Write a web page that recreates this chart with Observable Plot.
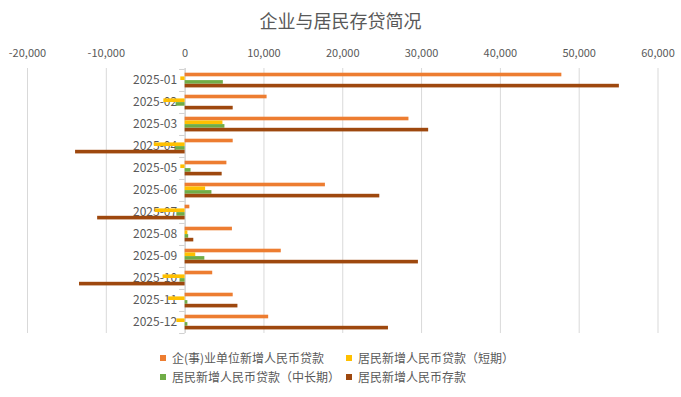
<!DOCTYPE html>
<html><head><meta charset="utf-8">
<script src="https://cdn.jsdelivr.net/npm/d3@7"></script>
<script src="https://cdn.jsdelivr.net/npm/@observablehq/plot@0.6"></script>
<style>
body{margin:0;background:#fff;font-family:"Noto Sans CJK SC","Noto Sans",sans-serif;}
#wrap{position:relative;width:681px;height:397px;overflow:hidden;background:#fff}
#title{position:absolute;top:8px;left:0;width:681px;text-align:center;font-size:18px;color:#595959;line-height:24px}
#chart{position:absolute;top:0;left:0}
.leg{position:absolute;font-size:12px;color:#595959;line-height:16px;white-space:nowrap}
.sw{position:absolute;left:-12px;top:5px;width:6px;height:6px}
</style></head>
<body>
<div id="wrap">
  <div id="chart"></div>
  <div id="title">企业与居民存贷简况</div>
  <div id="legend"></div>
</div>
<script>
const months = ["2025-01","2025-02","2025-03","2025-04","2025-05","2025-06","2025-07","2025-08","2025-09","2025-10","2025-11","2025-12"];
const seriesNames = ["企(事)业单位新增人民币贷款","居民新增人民币贷款（短期）","居民新增人民币贷款（中长期）","居民新增人民币存款"];
const seriesColors = ["#ED7D31","#FFC000","#70AD47","#9E480E"];
const enterpriseLoans = [47800, 10400, 28400, 6100, 5300, 17800, 600, 6000, 12200, 3500, 6100, 10600];
const householdShortLoans = [-550, -2700, 4800, -3900, -550, 2600, -3800, 350, 1350, -2800, -2100, -1050];
const householdLongLoans = [4850, -1150, 5050, -1200, 750, 3400, -1050, 450, 2500, -650, 350, 350];
const householdDeposits = [55100, 6100, 30900, -13900, 4700, 24700, -11100, 1100, 29600, -13400, 6700, 25800];
const xTicks = [-20000,-10000,0,10000,20000,30000,40000,50000,60000];

const seriesValues = [enterpriseLoans, householdShortLoans, householdLongLoans, householdDeposits];
const table = [];
seriesNames.forEach((s, i) => months.forEach((m, j) => table.push({month: m, series: s, idx: i, value: seriesValues[i][j]})));

const H = 345, mTop = 68, mBottom = 12;
const bw = (H - mTop - mBottom) / months.length;
const barH = 3.7;
const fmt = d => d3.format(",")(d).replace("\u2212", "-");

const barMarks = seriesNames.map((s, i) => Plot.barX(table.filter(d => d.idx === i), {
  x: "value", y: "month", fill: seriesColors[i],
  insetTop: barH * (i + 1), insetBottom: bw - barH * (i + 2)
}));

const chart = Plot.plot({
  width: 681, height: H,
  marginTop: mTop, marginBottom: mBottom, marginLeft: 27, marginRight: 23.5,
  style: {fontFamily: '"Noto Sans CJK SC","Noto Sans",sans-serif', background: "transparent"},
  x: {domain: [-20000, 60000], ticks: xTicks, tickFormat: fmt, axis: null, label: null},
  y: {domain: months, padding: 0, axis: null, label: null},
  marks: [
    Plot.ruleX(xTicks, {stroke: "#d9d9d9", strokeWidth: 1}),
    Plot.axisX({anchor: "top", ticks: xTicks, tickFormat: fmt, tickSize: 0, tickPadding: 12, fontSize: 11, color: "#595959", label: null}),
    Plot.ruleY(months, {y: d => d, dy: -bw / 2, x1: -700, x2: 0, stroke: "#d0d0d0"}),
    Plot.ruleY([months[months.length - 1]], {y: d => d, dy: bw / 2, x1: -700, x2: 0, stroke: "#d0d0d0"}),
    Plot.ruleX([0], {stroke: "#d0d0d0"}),
    Plot.text(months, {x: 0, y: d => d, text: d => d, dx: -8, textAnchor: "end", fontSize: 12, fill: "#595959"}),
    ...barMarks
  ]
});
document.getElementById("chart").appendChild(chart);

const legend = document.getElementById("legend");
const legPos = [[172, 350], [358, 350], [172, 369], [358, 369]];
seriesNames.forEach((s, i) => {
  const el = document.createElement("div");
  el.className = "leg";
  el.style.left = legPos[i][0] + "px";
  el.style.top = legPos[i][1] + "px";
  el.innerHTML = `<span class="sw" style="background:${seriesColors[i]}"></span>${s}`;
  legend.appendChild(el);
});
</script>
</body></html>
